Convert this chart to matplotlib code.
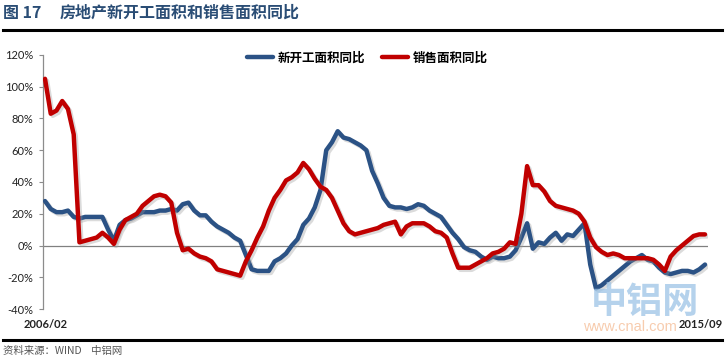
import matplotlib
matplotlib.use("Agg")
import matplotlib.pyplot as plt
import matplotlib.patheffects as pe
from matplotlib.lines import Line2D
import numpy as np

plt.rcParams['font.family'] = ['Noto Sans CJK SC', 'DejaVu Sans']

title_num = "图 17"
title_text = "房地产新开工面积和销售面积同比"
series_names = ["新开工面积同比", "销售面积同比"]
x_labels = ["2006/02", "2015/09"]
yticks = [-40, -20, 0, 20, 40, 60, 80, 100, 120]
source_text = "资料来源：WIND    中铝网"

# monthly, 2006/02 .. 2015/09
new_starts = [28, 23, 21, 21, 22, 18, 17, 18, 18, 18,
              18, 10, 3, 13, 16, 17, 19, 21, 21, 21,
              22, 22, 23, 22, 26, 27, 22, 19, 19, 15,
              12, 10, 8, 5, 3, -6, -15, -16, -16, -16,
              -10, -8, -5, 0, 4, 13, 17, 24, 35, 60,
              65, 72, 68, 67, 65, 63, 60, 47, 39, 30,
              25, 24, 24, 23, 24, 26, 25, 22, 20, 18,
              13, 8, 4, -1, -3, -4, -7, -9, -7, -8,
              -8, -7, -3, 5, 14, -2, 2, 1, 5, 8,
              3, 7, 6, 10, 14, -12, -27, -25, -22, -19,
              -16, -13, -10, -8, -6, -9, -10, -14, -17, -18,
              -17, -16, -16, -17, -15, -12]
sales = [105, 83, 85, 91, 86, 70, 2, 3, 4, 5,
         8, 5, 1, 10, 16, 18, 20, 25, 28, 31,
         32, 31, 27, 8, -3, -2, -5, -7, -8, -10,
         -15, -16, -17, -18, -19, -10, -3, 5, 12, 22,
         30, 35, 41, 43, 46, 52, 48, 42, 37, 35,
         30, 22, 14, 9, 7, 8, 9, 10, 11, 13,
         14, 15, 7, 12, 14, 14, 14, 12, 9, 8,
         5, -5, -14, -14, -14, -12, -10, -8, -5, -4,
         -2, 2, 1, 20, 50, 38, 38, 34, 28, 25,
         24, 23, 22, 20, 15, 5, -1, -4, -6, -5,
         -6, -8, -8, -8, -8, -8, -9, -12, -16, -7,
         -3, 0, 3, 6, 7, 7]

W, H = 726, 360
fig = plt.figure(figsize=(W / 100, H / 100), dpi=100)
fig.patch.set_facecolor("white")

ax = fig.add_axes([43 / W, 51 / H, (708 - 43) / W, 254 / H])
x = np.arange(len(sales))
shadow = [pe.SimpleLineShadow(offset=(1.5, -1.5), shadow_color='#999999', alpha=0.35), pe.Normal()]
ax.plot(x, new_starts, color='#2B5285', lw=3.2, solid_joinstyle='round',
        solid_capstyle='round', path_effects=shadow, label=series_names[0], zorder=3)
ax.plot(x, sales, color='#C00000', lw=3.2, solid_joinstyle='round',
        solid_capstyle='round', path_effects=shadow, label=series_names[1], zorder=4)

ax.set_xlim(-0.35, 115.52)
ax.set_ylim(-40, 120)
ax.axhline(0, color='#808080', lw=0.9, zorder=1)
ax.set_yticks(yticks)
ax.set_yticklabels([f"{v}%" for v in yticks], family=['Lato', 'DejaVu Sans'], fontsize=8,
                   color='#222222')
ax.set_xticks([])
for s in ['top', 'right', 'bottom']:
    ax.spines[s].set_visible(False)
ax.spines['left'].set_color('#8c8c8c')
ax.spines['left'].set_linewidth(0.9)
ax.tick_params(axis='y', length=3, color='#8c8c8c', pad=4)

leg = ax.legend(loc='upper center', bbox_to_anchor=(0.488, 1.058), ncol=2, frameon=False,
                prop={'family': ['Noto Sans CJK SC', 'DejaVu Sans'], 'size': 9, 'weight': 'bold'},
                handlelength=2.1, columnspacing=1.3, handletextpad=0.4)
for h in leg.legend_handles:
    h.set_path_effects([])
    h.set_linewidth(3.2)

# x end labels
fig.text(46 / W, 1 - 325 / H, x_labels[0], ha='center', va='center', fontsize=8,
         family=['Lato', 'DejaVu Sans'], color='#222222', fontweight='bold')
fig.text(701 / W, 1 - 325 / H, x_labels[1], ha='center', va='center', fontsize=8,
         family=['Lato', 'DejaVu Sans'], color='#222222', fontweight='bold', zorder=6)

# watermark
fig.text(645 / W, 1 - 302 / H, "中铝网", ha='center', va='center', fontsize=26,
         color='#9cc3e6', alpha=0.75, fontweight='bold', zorder=5)
fig.text(677 / W, 1 - 327 / H, "www.cnal.com", ha='right', va='center', fontsize=10.5,
         family=['Liberation Sans Narrow', 'Liberation Sans', 'DejaVu Sans'],
         color='#f6c3a0', alpha=0.85, zorder=5)

# title
fig.text(3 / W, 1 - 13 / H, title_num, ha='left', va='center', fontsize=11.5,
         fontweight='bold', color='#2a4d75')
fig.text(60 / W, 1 - 13 / H, title_text, ha='left', va='center', fontsize=11.5,
         fontweight='bold', color='#2a4d75')

# rules
fig.add_artist(Line2D([3 / W, 722 / W], [1 - 30 / H, 1 - 30 / H], color='black', lw=2.2))
fig.add_artist(Line2D([3 / W, 722 / W], [1 - 340 / H, 1 - 340 / H], color='black', lw=2.2))

fig.text(3 / W, 1 - 351 / H, source_text, ha='left', va='center', fontsize=7.5,
         color='#555555', style='italic')

fig.savefig("out.png", dpi=100, facecolor='white')
